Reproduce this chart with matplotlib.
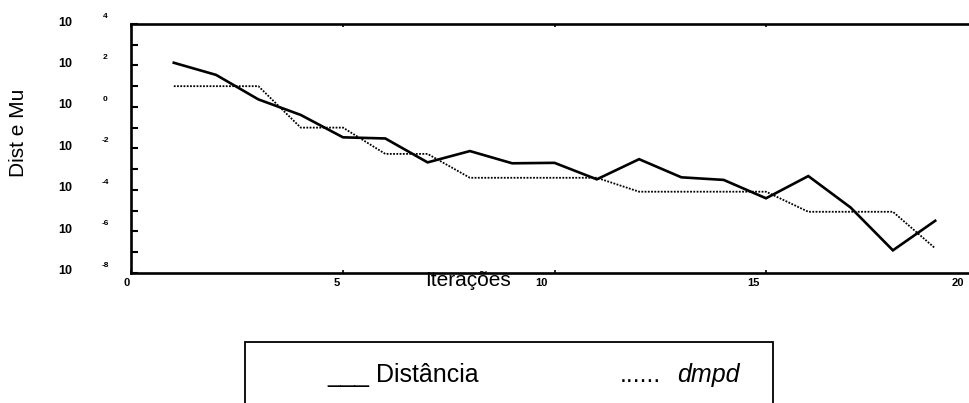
import matplotlib
matplotlib.use("Agg")
import matplotlib.pyplot as plt
import matplotlib.transforms as mtransforms
from matplotlib.patches import Rectangle
import numpy as np

plt.rcParams['font.family'] = ['Liberation Sans', 'DejaVu Sans']

iteracoes = [1, 2, 3, 4, 5, 6, 7, 8, 9, 10, 11, 12, 13, 14, 15, 16, 17, 18, 19]
distancia = [135, 35, 2.3, 0.41, 0.034, 0.030, 2.1e-3, 7.4e-3, 1.9e-3, 2.0e-3,
             3.2e-4, 3.0e-3, 4.0e-4, 3.0e-4, 3.9e-5, 4.6e-4, 1.4e-5, 1.2e-7, 3.2e-6]
dmpd = [10, 10, 10, 0.1, 0.1, 5.4e-3, 5.4e-3, 3.8e-4, 3.8e-4, 3.8e-4,
        3.8e-4, 8.1e-5, 8.1e-5, 8.1e-5, 8.1e-5, 8.7e-6, 8.7e-6, 8.7e-6, 1.5e-7]
x_ticks = [0, 5, 10, 15, 20]
y_exponents = [4, 2, 0, -2, -4, -6, -8]

W, H = 970, 403
fig = plt.figure(figsize=(W / 100, H / 100), dpi=100)
ax = fig.add_axes([131.5 / W, (H - 272.7) / H, 846 / W, 248.7 / H])

ax.plot(iteracoes, distancia, color='black', lw=1.9, solid_joinstyle='miter')
ax.plot(iteracoes, dmpd, color='black', lw=1.3, linestyle=(0, (1, 0.8)))

ax.set_yscale('log')
ax.set_ylim(1e-8, 1e4)
ax.set_xlim(0, 20)

for s in ax.spines.values():
    s.set_linewidth(1.9)

ax.set_yticks([10.0 ** e for e in range(-8, 5)])
ax.yaxis.set_minor_locator(matplotlib.ticker.NullLocator())
ax.set_yticklabels([])
ax.tick_params(axis='y', which='major', direction='in', length=5, width=1.5,
               left=True, right=False)

ax.set_xticks(x_ticks)
ax.set_xticklabels([str(v) for v in x_ticks], fontsize=8, fontweight='bold')
ax.tick_params(axis='x', direction='in', length=2.5, width=1.2, top=True, pad=4)
shifts = [-5, -6, -13, -13, -20]
for lab, sh in zip(ax.get_xticklabels(), shifts):
    off = mtransforms.ScaledTranslation(sh / 100, 0, fig.dpi_scale_trans)
    lab.set_transform(lab.get_transform() + off)

# y tick labels: "10" with detached exponent
btr = mtransforms.blended_transform_factory(fig.transFigure, ax.transData)
up_base = mtransforms.ScaledTranslation(0, 1.5 / 100, fig.dpi_scale_trans)
up_exp = mtransforms.ScaledTranslation(0, 7.5 / 100, fig.dpi_scale_trans)
for e in y_exponents:
    ax.text(65 / W, 10.0 ** e, "10", transform=btr + up_base, ha='center',
            va='center', fontsize=9, fontweight='bold', clip_on=False)
    ax.text(105 / W, 10.0 ** e, str(e), transform=btr + up_exp, ha='center',
            va='center', fontsize=6, fontweight='bold', clip_on=False)

fig.text(19 / W, 1 - 133 / H, "Dist e Mu", rotation=90, ha='center', va='center',
         fontsize=15)
fig.text(468 / W, 1 - 281 / H, "Iterações", ha='center', va='center', fontsize=15)

# legend box
fig.patches.append(Rectangle((245 / W, -0.1), (773 - 245) / W, 0.1 + (H - 342) / H,
                             transform=fig.transFigure, fill=False, lw=1.3,
                             edgecolor='black'))
fig.text(327 / W, 1 - 382 / H, "___ Distância", ha='left', va='baseline', fontsize=18)
fig.text(620 / W, 1 - 382 / H, "......", ha='left', va='baseline', fontsize=18)
fig.text(677 / W, 1 - 382 / H, "dmpd", ha='left', va='baseline', fontsize=18,
         style='italic')

fig.savefig("out.png", dpi=100)
